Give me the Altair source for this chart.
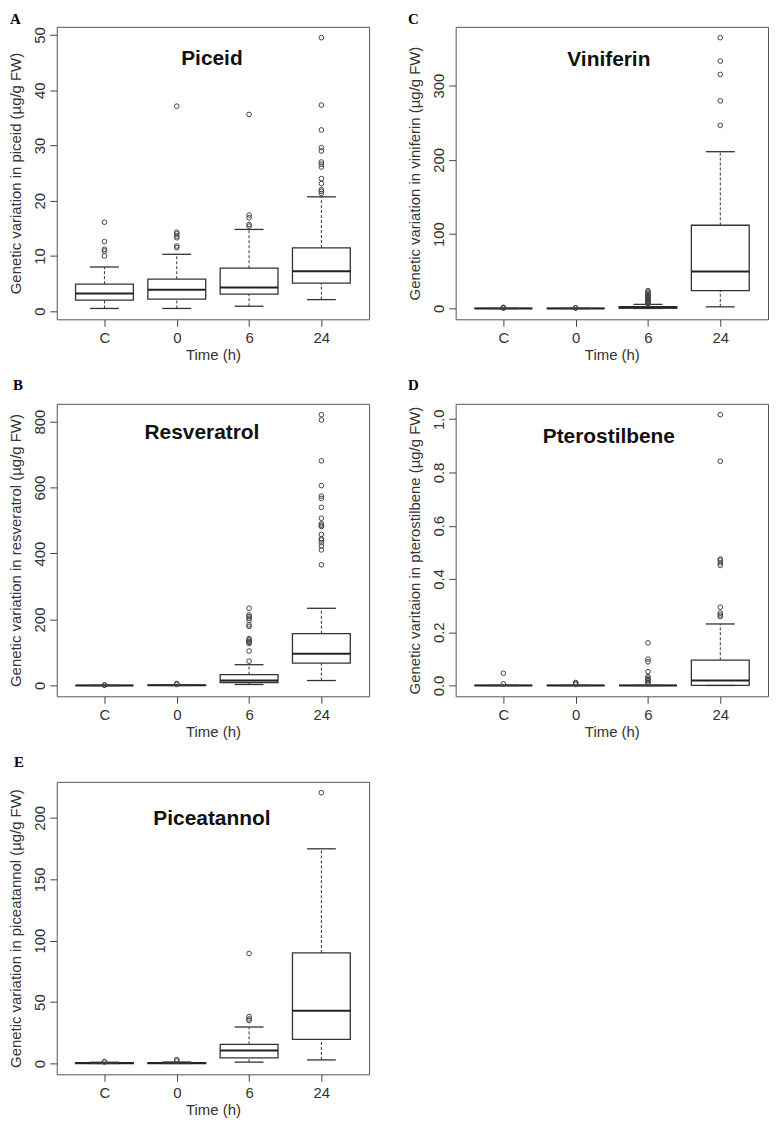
import altair as alt
import pandas as pd

cats = ["C", "0", "6", "24"]
time_title = "Time (h)"

# ---------------- A: Piceid ----------------
piceid_low = [0.5, 0.5, 0.9, 2.1]
piceid_q1 = [2.0, 2.2, 3.1, 5.1]
piceid_med = [3.2, 3.9, 4.3, 7.25]
piceid_q3 = [4.9, 5.8, 7.8, 11.45]
piceid_high = [8.0, 10.3, 14.8, 20.7]
piceid_out_C = [10.0, 10.9, 11.2, 12.6, 16.1]
piceid_out_0 = [11.5, 11.8, 13.3, 13.6, 14.0, 14.3, 37.1]
piceid_out_6 = [15.4, 15.7, 16.9, 17.4, 35.6]
piceid_out_24 = [21.3, 21.7, 22.0, 23.1, 24.0, 26.1, 26.6, 27.0, 29.0, 29.6, 32.8, 37.3, 49.5]
piceid_ticks = [0, 10, 20, 30, 40, 50]

# ---------------- C: Viniferin ----------------
vini_low = [0.0, 0.0, 0.0, 2.2]
vini_q1 = [0.0, 0.0, 0.5, 24.0]
vini_med = [0.0, 0.0, 1.2, 49.6]
vini_q3 = [0.0, 0.0, 2.5, 112.0]
vini_high = [0.0, 0.0, 5.5, 211.0]
vini_out_C = [0.5, 1.0, 1.5]
vini_out_0 = [0.5, 1.0]
vini_out_6 = [6.2, 7.0, 7.8, 8.9, 9.7, 10.8, 12.0, 13.1, 14.5, 15.8, 17.2, 18.9, 20.5, 22.3, 24.0]
vini_out_24 = [246.5, 279.5, 315.0, 333.0, 364.5]
vini_ticks = [0, 100, 200, 300]

# ---------------- B: Resveratrol ----------------
resv_low = [0.0, 0.0, 3.0, 15.0]
resv_q1 = [0.0, 0.0, 9.0, 67.5]
resv_med = [0.0, 0.5, 15.0, 96.0]
resv_q3 = [0.0, 1.0, 33.0, 157.0]
resv_high = [0.0, 2.0, 63.0, 234.0]
resv_out_C = [0.5, 1.5]
resv_out_0 = [3.0, 6.0]
resv_out_6 = [73.6, 104.5, 127.0, 131.0, 134.0, 138.0, 142.0, 179.0, 184.0, 198.0, 204.0, 209.0, 214.0, 234.0]
resv_out_24 = [366.0, 411.0, 423.0, 433.0, 441.0, 445.0, 458.0, 482.0, 486.0, 490.0, 507.0, 540.0,
               567.0, 574.0, 606.0, 681.0, 805.0, 821.0]
resv_ticks = [0, 200, 400, 600, 800]

# ---------------- D: Pterostilbene ----------------
ptero_low = [0.0, 0.0, 0.0, 0.0]
ptero_q1 = [0.0, 0.0, 0.0, 0.0]
ptero_med = [0.0, 0.0, 0.0, 0.0185]
ptero_q3 = [0.0, 0.0, 0.0, 0.095]
ptero_high = [0.0, 0.0, 0.0, 0.231]
ptero_out_C = [0.006, 0.046]
ptero_out_0 = [0.004, 0.008, 0.011]
ptero_out_6 = [0.006, 0.012, 0.018, 0.022, 0.027, 0.033, 0.052, 0.089, 0.099, 0.16]
ptero_out_24 = [0.259, 0.265, 0.272, 0.294, 0.451, 0.46, 0.469, 0.475, 0.842, 1.017]
ptero_ticks = [0.0, 0.2, 0.4, 0.6, 0.8, 1.0]

# ---------------- E: Piceatannol ----------------
picea_low = [0.0, 0.0, 1.1, 2.9]
picea_q1 = [0.0, 0.0, 4.5, 19.6]
picea_med = [0.3, 0.3, 10.6, 42.9]
picea_q3 = [0.6, 0.6, 15.6, 90.0]
picea_high = [1.0, 1.2, 29.7, 174.8]
picea_out_C = [1.2, 1.5]
picea_out_0 = [2.0, 3.2]
picea_out_6 = [35.0, 36.3, 38.2, 89.6]
picea_out_24 = [220.5]
picea_ticks = [0, 50, 100, 150, 200]

LINE = "#333333"
FONT = "Liberation Sans"
W, H = 314, 294


def panel(letter, name, ytitle, low, q1, med, q3, high, outs, ticks, fmt,
          tx, ty, lx, ly):
    stats = pd.DataFrame({"idx": [1, 2, 3, 4], "cat": cats, "low": low, "q1": q1,
                          "med": med, "q3": q3, "high": high})
    out = pd.DataFrame([{"idx": i + 1, "v": v} for i, vals in enumerate(outs) for v in vals])
    allv = list(low) + list(high) + [v for vals in outs for v in vals]
    lo, hi = min(allv), max(allv)
    pad = 0.04 * (hi - lo)
    xs = alt.Scale(domain=[0.34, 4.66], nice=False, zero=False)
    ys = alt.Scale(domain=[lo - pad, hi + pad], nice=False, zero=False)
    label_expr = "[" + ",".join("'%s'" % c for c in cats) + "][datum.value - 1]"
    xaxis = alt.Axis(values=[1, 2, 3, 4], labelExpr=label_expr, title=time_title,
                     labelFlush=False, labelAngle=0)
    yaxis = alt.Axis(values=ticks, format=fmt, title=ytitle, labelAngle=270,
                     labelAlign="center", labelBaseline="bottom", labelFlush=False,
                     labelOverlap=False)

    def X(f):
        return alt.X(f, scale=xs, axis=xaxis)

    def Y(f):
        return alt.Y(f, scale=ys, axis=yaxis)

    base = alt.Chart(stats).transform_calculate(
        bl="datum.idx - 0.4", br="datum.idx + 0.4",
        sl="datum.idx - 0.2", sr="datum.idx + 0.2")
    wlo = base.mark_rule(color=LINE, strokeDash=[3, 2], strokeWidth=1).encode(
        x=X("idx:Q"), y=Y("low:Q"), y2="q1:Q")
    whi = base.mark_rule(color=LINE, strokeDash=[3, 2], strokeWidth=1).encode(
        x=X("idx:Q"), y=Y("q3:Q"), y2="high:Q")
    box = base.mark_rect(fill="white", stroke=LINE, strokeWidth=1.3).encode(
        x=X("bl:Q"), x2="br:Q", y=Y("q1:Q"), y2="q3:Q")
    medl = base.mark_rule(color="#222222", strokeWidth=2).encode(
        x=X("bl:Q"), x2="br:Q", y=Y("med:Q"))
    slo = base.mark_rule(color=LINE, strokeWidth=1.3).encode(
        x=X("sl:Q"), x2="sr:Q", y=Y("low:Q"))
    shi = base.mark_rule(color=LINE, strokeWidth=1.3).encode(
        x=X("sl:Q"), x2="sr:Q", y=Y("high:Q"))
    pts = alt.Chart(out).mark_point(shape="circle", size=22, filled=False, color="#444444",
                                    strokeWidth=1, opacity=1).encode(
        x=X("idx:Q"), y=Y("v:Q"))
    ttl = alt.Chart(pd.DataFrame({"t": [name]})).mark_text(
        font=FONT, fontSize=21, fontWeight="bold", color="#111111",
        align="center", baseline="middle").encode(
        text="t:N", x=alt.value(tx), y=alt.value(ty))
    let = alt.Chart(pd.DataFrame({"t": [letter]})).mark_text(
        font="Liberation Serif", fontSize=15, fontWeight="bold", color="#000000",
        align="left", baseline="top").encode(
        text="t:N", x=alt.value(lx), y=alt.value(ly))
    return alt.layer(wlo, whi, box, medl, slo, shi, pts, ttl, let).properties(
        width=W, height=H)


pA = panel("A", "Piceid", "Genetic variation in piceid (µg/g FW)",
           piceid_low, piceid_q1, piceid_med, piceid_q3, piceid_high,
           [piceid_out_C, piceid_out_0, piceid_out_6, piceid_out_24], piceid_ticks, "d",
           156, 32, -47, -15)
pC = panel("C", "Viniferin", "Genetic variation in viniferin (µg/g FW)",
           vini_low, vini_q1, vini_med, vini_q3, vini_high,
           [vini_out_C, vini_out_0, vini_out_6, vini_out_24], vini_ticks, "d",
           154, 33, -48, -15)
pB = panel("B", "Resveratrol", "Genetic variation in resveratrol (µg/g FW)",
           resv_low, resv_q1, resv_med, resv_q3, resv_high,
           [resv_out_C, resv_out_0, resv_out_6, resv_out_24], resv_ticks, "d",
           146, 29, -44, -26)
pD = panel("D", "Pterostilbene", "Genetic varitaion in pterostilbene (µg/g FW)",
           ptero_low, ptero_q1, ptero_med, ptero_q3, ptero_high,
           [ptero_out_C, ptero_out_0, ptero_out_6, ptero_out_24], ptero_ticks, ".1f",
           154, 33, -48, -26)
pE = panel("E", "Piceatannol", "Genetic variation in piceatannol (µg/g FW)",
           picea_low, picea_q1, picea_med, picea_q3, picea_high,
           [picea_out_C, picea_out_0, picea_out_6, picea_out_24], picea_ticks, "d",
           156, 37, -43, -27)

row1 = alt.hconcat(pA, pC, spacing=37)
row2 = alt.hconcat(pB, pD, spacing=37)
chart = alt.vconcat(row1, row2, pE, spacing=14).properties(
    padding={"left": 0, "top": 0, "right": 0, "bottom": 0}
).configure_view(
    stroke="#555555", strokeWidth=1
).configure_axis(
    domain=False, grid=False, ticks=True, tickSize=7, tickColor="#444444", tickWidth=1,
    labelFont=FONT, labelFontSize=15, labelColor="#333333",
    titleFont=FONT, titleFontSize=15, titleFontWeight="normal", titleColor="#333333"
).configure_axisX(
    labelPadding=4, titlePadding=2
).configure_axisY(
    labelPadding=2, titlePadding=9
)

chart.save("out.html", embed_options={"renderer": "svg", "actions": False})
